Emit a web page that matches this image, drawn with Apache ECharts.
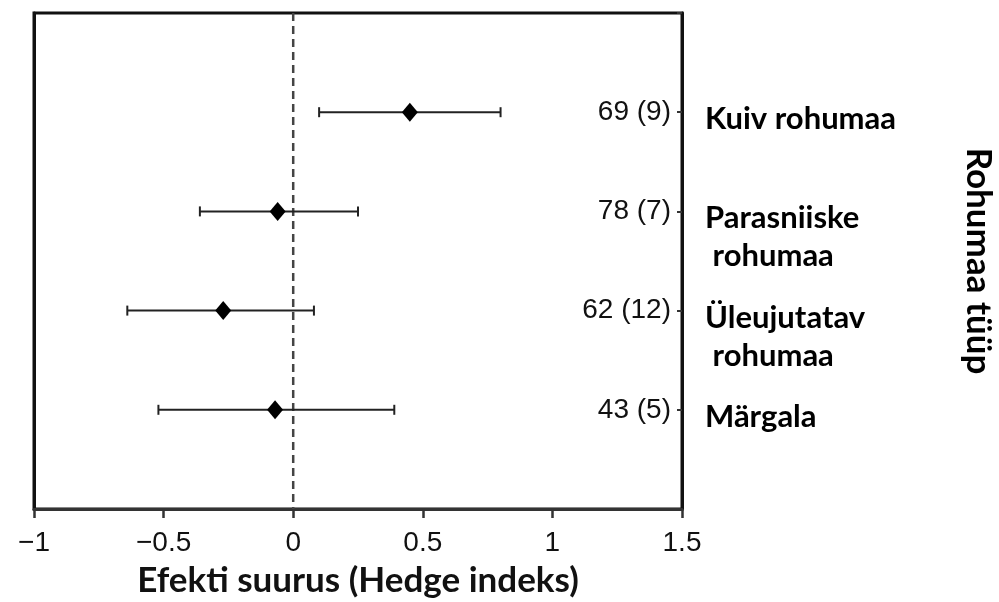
<!DOCTYPE html>
<html><head><meta charset="utf-8">
<script src="https://cdn.jsdelivr.net/npm/echarts@6/dist/echarts.min.js"></script>
<style>html,body{margin:0;padding:0;background:#fff}#c{width:999px;height:602px}</style>
</head><body><div id="c"></div>
<script>
// ---- data ----
const categories = ['Kuiv rohumaa', 'Parasniiske\n rohumaa', 'Üleujutatav\n rohumaa', 'Märgala'];
const rowPos = [1, 2, 3, 4];
const countLabels = ['69 (9)', '78 (7)', '62 (12)', '43 (5)'];
const means = [0.45, -0.06, -0.27, -0.07];
const lower = [0.10, -0.36, -0.64, -0.52];
const upper = [0.80, 0.25, 0.08, 0.39];
const xTicks = [-1, -0.5, 0, 0.5, 1, 1.5];
const zeroLine = [[0, 0], [0, 5]];
const xTitle = 'Efekti suurus (Hedge indeks)';
const yTitle = 'Rohumaa tüüp';

const boldFont = 'Lato';
const numFont = '"Liberation Sans", Arial, sans-serif';

const chart = echarts.init(document.getElementById('c'), null, {renderer: 'canvas'});
const option = {
  animation: false,
  backgroundColor: '#fff',
  grid: {left: 34, right: 317, top: 13, bottom: 93, show: true, borderColor: '#111', borderWidth: 3,
         containLabel: false, outerBoundsMode: 'none'},
  xAxis: {
    type: 'value', min: xTicks[0], max: xTicks[xTicks.length - 1], interval: 0.5,
    splitLine: {show: false},
    axisLine: {show: true, onZero: false, lineStyle: {color: '#333', width: 3}},
    axisTick: {show: true, length: 9, lineStyle: {color: '#333', width: 2.5}},
    axisLabel: {
      color: '#111', fontSize: 28, fontFamily: numFont, margin: 20,
      formatter: v => String(v).replace('-', '\u2212')
    },
    name: xTitle, nameLocation: 'middle', nameGap: 54,
    nameTextStyle: {fontFamily: boldFont, fontWeight: 'bold', fontSize: 35, color: '#111'}
  },
  yAxis: [
    {
      type: 'value', min: 0, max: 5, interval: 1, inverse: true, position: 'left',
      splitLine: {show: false}, axisLabel: {show: false}, axisTick: {show: false},
      axisLine: {show: true, onZero: false, lineStyle: {color: '#111', width: 3}}
    },
    {
      type: 'value', min: 0, max: 5, interval: 1, inverse: true, position: 'right',
      splitLine: {show: false},
      axisLine: {show: true, onZero: false, lineStyle: {color: '#111', width: 3}},
      axisTick: {show: true, inside: true, length: 5, lineStyle: {color: '#333', width: 2}},
      axisLabel: {
        show: true, inside: true, margin: 11, color: '#111', fontSize: 28, fontFamily: numFont,
        formatter: v => { const i = rowPos.indexOf(v); return i >= 0 ? countLabels[i] : ''; }
      },
      name: yTitle, nameLocation: 'middle', nameGap: 279, nameRotate: -90,
      nameTextStyle: {fontFamily: boldFont, fontWeight: 'bold', fontSize: 35, color: '#000'}
    }
  ],
  series: [
    {
      type: 'line',
      data: zeroLine,
      symbol: 'none',
      silent: true,
      lineStyle: {color: '#444', width: 2.5, type: [8, 5]},
      z: 2
    },
    {
      type: 'custom',
      renderItem: function (params, api) {
        const y = api.value(0), lo = api.value(1), hi = api.value(2);
        const p1 = api.coord([lo, y]), p2 = api.coord([hi, y]);
        const cap = 5;
        const st = {stroke: '#222', lineWidth: 2};
        return {type: 'group', children: [
          {type: 'line', shape: {x1: p1[0], y1: p1[1], x2: p2[0], y2: p2[1]}, style: st},
          {type: 'line', shape: {x1: p1[0], y1: p1[1] - cap, x2: p1[0], y2: p1[1] + cap}, style: st},
          {type: 'line', shape: {x1: p2[0], y1: p2[1] - cap, x2: p2[0], y2: p2[1] + cap}, style: st}
        ]};
      },
      encode: {x: [1, 2], y: 0},
      data: rowPos.map((r, i) => [r, lower[i], upper[i]]),
      z: 3
    },
    {
      type: 'scatter',
      symbol: 'diamond', symbolSize: [16, 19],
      itemStyle: {color: '#000', opacity: 1},
      data: rowPos.map((r, i) => [means[i], r]),
      z: 4
    },
    {
      type: 'scatter',
      symbolSize: 0,
      clip: false,
      itemStyle: {opacity: 1},
      data: rowPos.map((r, i) => ({value: [xTicks[xTicks.length - 1], r], name: categories[i]})),
      label: {
        show: true, position: [23, -12], align: 'left', verticalAlign: 'top',
        formatter: p => p.name,
        fontFamily: boldFont, fontWeight: 'bold', fontSize: 31, lineHeight: 38, color: '#000'
      },
      z: 5
    }
  ]
};
chart.setOption(option);
</script></body></html>
